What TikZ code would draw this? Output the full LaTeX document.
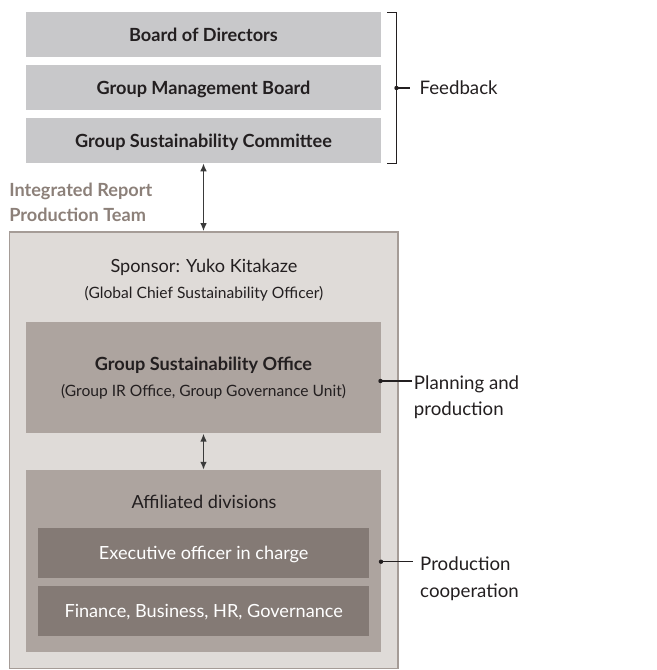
\documentclass[tikz,border=0pt]{standalone}
\usepackage{fontspec}
\setmainfont{Lato}
\usepackage{tikz}
\usetikzlibrary{positioning}
\usetikzlibrary{calc}
\usetikzlibrary{arrows.meta}
\pgfdeclarelayer{nodelayer}
\pgfdeclarelayer{edgelayer}
\pgfsetlayers{edgelayer,nodelayer,main}
\definecolor{boardgrey}{HTML}{C8C8CA}
\definecolor{teamfill}{HTML}{DFDBD8}
\definecolor{teamline}{HTML}{A59C97}
\definecolor{officefill}{HTML}{ADA49F}
\definecolor{unitfill}{HTML}{847A75}
\definecolor{teamtext}{HTML}{8C8079}
\definecolor{ink}{HTML}{231F20}
\definecolor{wire}{HTML}{3A3A3A}
\tikzstyle{none}=[inner sep=0pt, text=ink]
\tikzstyle{board}=[shape=rectangle, fill=boardgrey, inner sep=0pt, text=ink,
text height=10pt, text depth=0pt, minimum width=266.25pt, minimum height=33.75pt,
font=\fontsize{13.6}{16}\selectfont\bfseries]
\tikzstyle{team}=[shape=rectangle, fill=teamfill, draw=teamline, line width=1.2pt,
minimum width=291.4pt, minimum height=327.4pt]
\tikzstyle{office}=[shape=rectangle, fill=officefill, inner sep=0pt, text=ink,
minimum width=266.25pt]
\tikzstyle{unit}=[shape=rectangle, fill=unitfill, inner sep=0pt, text=white,
text height=10pt, text depth=0pt, minimum width=248pt, minimum height=37.5pt,
font=\fontsize{13.6}{16}\selectfont]
\tikzset{side/.style={inner ysep=0pt, align=left, text=ink, font=\fontsize{14}{19.9}\selectfont}}
\tikzset{link/.style={draw=wire, line width=1.3pt, >={Latex[length=6pt,width=5pt]}, <->}}
\tikzset{brace/.style={draw=ink, line width=0.85pt}}
\tikzset{dot/.style={fill=ink}}

\begin{document}
\begin{tikzpicture}[x=0.75pt, y=-0.75pt]
	\useasboundingbox (0, 0) rectangle (656, 670);
	\begin{pgfonlayer}{nodelayer}
		\node [style=team] (team) at (203.75, 450.25) {};
		\node [style=board] (board) at (203.5, 34.7) {Board of Directors};
		\node [style=board] (mgmt) at (203.5, 87.5) {Group Management Board};
		\node [style=board] (gsc) at (203.5, 140.5) {Group Sustainability Committee};
		\node [style=none, anchor=north west, align=left, text=teamtext,
			font=\fontsize{13.6}{19}\selectfont\bfseries] (title) at (9, 182.5) {Integrated Report\\Production Team};
		\node [style=none, anchor=base, font=\fontsize{13.6}{16}\selectfont] (sponsor) at (204, 272.3) {Sponsor: Yuko Kitakaze};
		\node [style=none, anchor=base, font=\fontsize{11.7}{14}\selectfont] (cso) at (204, 298.3) {(Global Chief Sustainability Officer)};
		\node [style=office, minimum height=83.25pt, align=center,
			font=\fontsize{13.6}{19.2}\selectfont] (gso) at (203.5, 377.8) {\textbf{Group Sustainability Office}\\{\fontsize{11.7}{19.2}\selectfont (Group IR Office, Group Governance Unit)}};
		\node [style=office, minimum height=136.1pt] (affil) at (203.5, 560.8) {};
		\node [style=none, anchor=base, font=\fontsize{13.6}{16}\selectfont] (affiltext) at (204, 508.3) {Affiliated divisions};
		\node [style=unit] (exec) at (203.7, 553.3) {Executive officer in charge};
		\node [style=unit] (fin) at (203.7, 611.3) {Finance, Business, HR, Governance};
		\node [style=side, anchor=base west, inner xsep=7pt] (fb) at (410, 95) {Feedback};
		\node [style=side, anchor=north west, inner xsep=1.5pt] (plan) at (411.7, 375) {Planning and\\production};
		\node [style=side, anchor=north west, inner xsep=5pt] (prod) at (413.3, 556.7) {Production\\cooperation};
	\end{pgfonlayer}
	\coordinate (bt) at (387, 12.3);
	\coordinate (bb) at (387, 163.3);
	\coordinate (fbdot) at (396.5, 88);
	\coordinate (plandot) at (380.5, 381);
	\coordinate (proddot) at (381, 561.7);
	\draw [style=link] (gsc.south) to (gsc.south |- team.north);
	\draw [style=link] (gso.south) to (gso.south |- affil.north);
	\draw [style=brace] (bt) -| (fbdot) |- (bb);
	\draw [style=brace] (fbdot) to (fbdot -| fb.west);
	\draw [style=brace] (plandot) to (plandot -| plan.west);
	\draw [style=brace] (proddot) to (proddot -| prod.west);
	\foreach \d in {fbdot, plandot, proddot}
		\fill [style=dot] (\d) circle (2.2);
\end{tikzpicture}
\end{document}
